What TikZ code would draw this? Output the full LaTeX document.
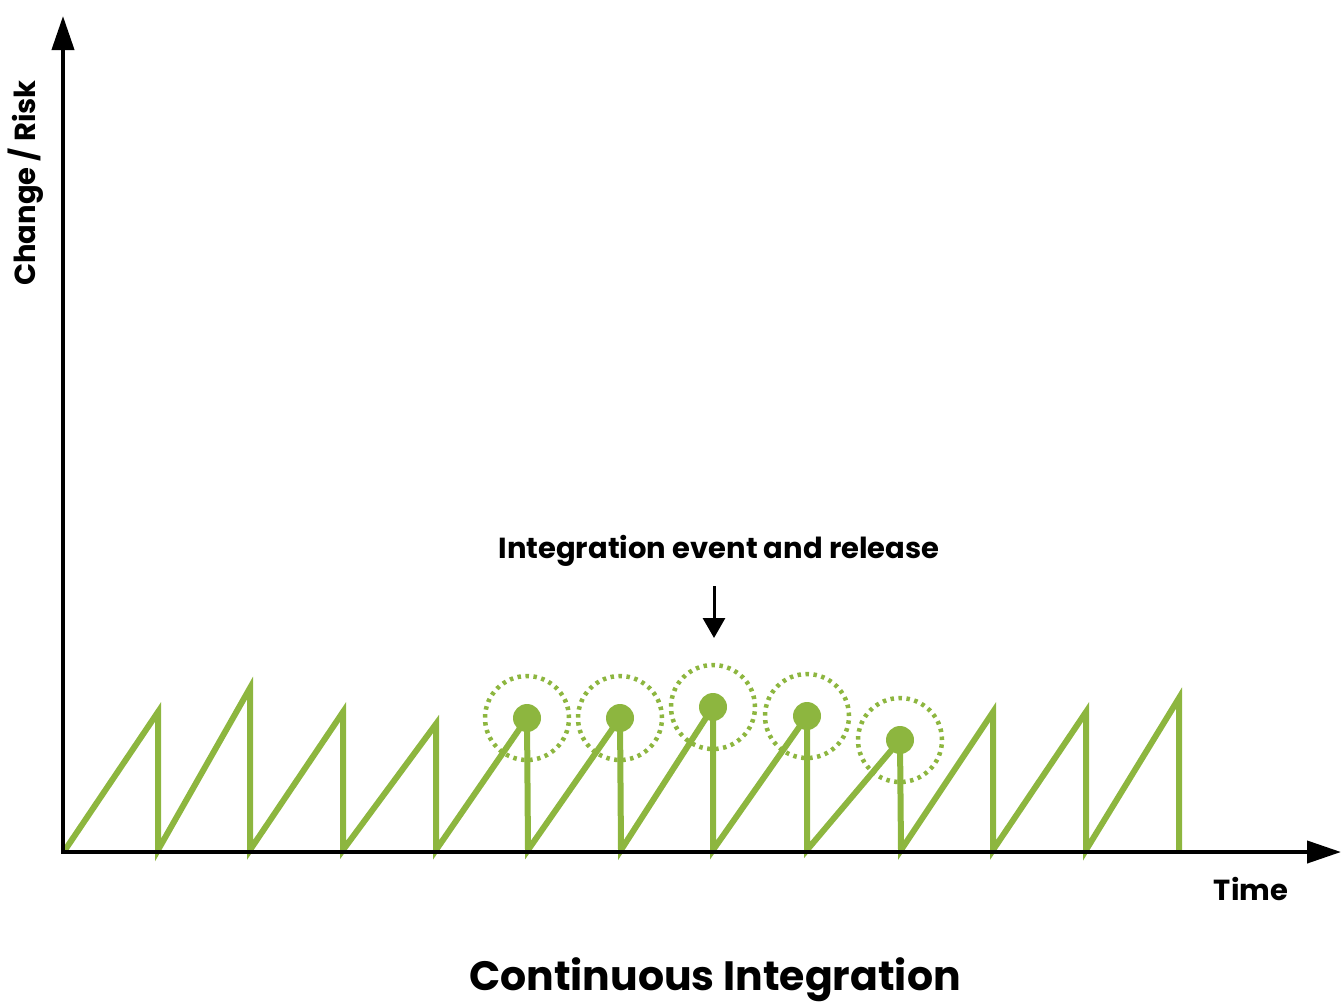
\documentclass[tikz,border=0pt]{standalone}
\usepackage{fontspec}
\setmainfont{Poppins}
\usetikzlibrary{arrows.meta}
\definecolor{cigreen}{RGB}{141,182,63}
\begin{document}
\begin{tikzpicture}[x=1pt,y=-1pt,
  axis/.style={line width=4pt,-{Triangle[length=34pt,width=22pt]}},
  saw/.style={cigreen,line width=6pt,line join=miter,miter limit=20},
  event/.style={circle,fill=cigreen,inner sep=0pt,minimum size=28pt},
  halo/.style={circle,draw=cigreen,line width=4.5pt,dash pattern=on 3.5pt off 4.5pt,inner sep=0pt,minimum size=84pt},
  lbl/.style={font=\fontsize{29}{34}\selectfont\bfseries,inner sep=0pt},
  title/.style={font=\fontsize{41}{48}\selectfont\bfseries,inner sep=0pt}]
\useasboundingbox (0,0) rectangle (1341,1005);

% base points on the time axis and change peaks
\foreach \n/\x in {0/65,1/158,2/250,3/343,4/436,5/528,6/621,7/713,8/807,9/901,10/993,11/1086,12/1179}
  \coordinate (b\n) at (\x,850);
\foreach \n/\x/\y in {1/158/712,2/250/688,3/343/712,4/436/724,5/527/718,6/620/718,7/713/707,8/807/716,9/900/740,10/993/712,11/1086/712,12/1179/698}
  \coordinate (p\n) at (\x,\y);

% accumulated change, reset at every integration
\draw[saw] (b0) -- (p1) -- (b1) -- (p2) -- (b2) -- (p3) -- (b3) -- (p4) -- (b4)
  -- (p5) -- (b5) -- (p6) -- (b6) -- (p7) -- (b7) -- (p8) -- (b8) -- (p9) -- (b9)
  -- (p10) -- (b10) -- (p11) -- (b11) -- (p12) -- (b12);

% integration events
\foreach \n in {5,...,9} {
  \node[event] (e\n) at (p\n) {};
  \node[halo] (h\n) at (p\n) {};
}

% axes
\coordinate (origin) at (63,852);
\coordinate (ytip) at (63,16);
\coordinate (xtip) at (1341,852);
\draw[axis] (origin) -- (ytip);
\draw[axis] ([xshift=-2pt]origin) -- (xtip);

% labels
\node[lbl,rotate=90] (ylab) at (26,183) {Change / Risk};
\node[lbl] (xlab) at (1251,889) {Time};
\node[lbl] (evt) at (719,551) {Integration event and release};
\coordinate (arrtop) at (714,586);
\coordinate (arrtip) at (714,638);
\draw[line width=3pt,-{Triangle[length=20pt,width=22pt]}] (arrtop) -- (arrtip);
\node[title,anchor=base] (ttl) at (715,990) {Continuous Integration};
\end{tikzpicture}
\end{document}
